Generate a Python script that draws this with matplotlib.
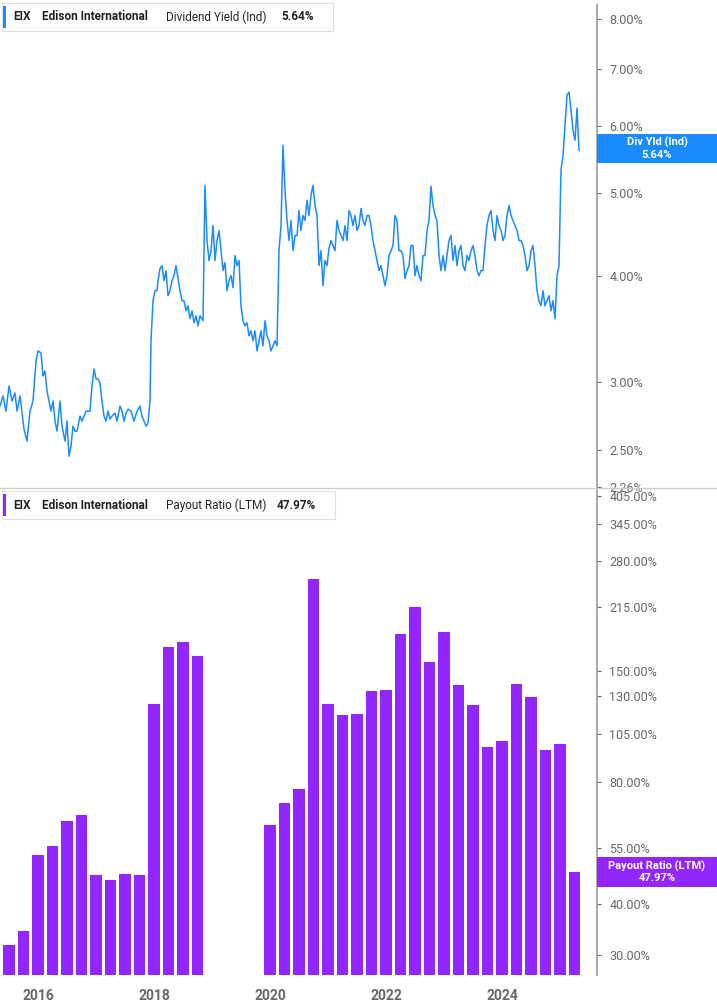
import numpy as np
import matplotlib
matplotlib.use("Agg")
import matplotlib.pyplot as plt
from matplotlib.ticker import FixedLocator, NullLocator

plt.rcParams["font.family"] = "Roboto"

# ---- Data ----
_px = [(0,405),(3,395),(6,410),(9,385),(12,400),(15,392),(17,410),(20,395),(24,428),(27,440),(30,410),(33,400),(36,360),(38,350),(41,352),(43,375),(45,370),(47,390),(49,400),(51,410),(53,400),(55,420),(57,430),(60,400),(62,425),(65,440),(67,420),(69,455),(71,445),(73,425),(75,430),(77,430),(80,415),(82,420),(86,410),(90,410),(92,385),(94,368),(96,378),(98,378),(100,382),(102,400),(104,415),(106,420),(108,410),(110,418),(112,415),(115,412),(117,420),(120,405),(122,410),(124,420),(126,412),(128,408),(131,410),(134,420),(137,410),(140,405),(142,415),(144,420),(146,425),(148,422),(150,400),(151,340),(153,300),(155,290),(157,290),(158,280),(160,268),(162,265),(164,280),(166,270),(168,295),(170,290),(172,280),(174,275),(176,265),(178,278),(180,290),(182,300),(184,300),(186,310),(188,305),(190,318),(192,310),(194,322),(196,315),(198,325),(200,315),(203,320),(205,185),(207,240),(209,260),(211,250),(213,225),(215,260),(217,240),(219,230),(221,250),(223,270),(225,262),(227,290),(229,280),(231,275),(233,287),(235,255),(237,265),(239,260),(241,305),(243,320),(245,325),(247,322),(249,335),(251,330),(253,340),(255,330),(257,350),(259,340),(261,330),(263,345),(265,320),(267,335),(269,340),(271,350),(273,345),(275,340),(277,345),(279,250),(281,225),(283,145),(285,190),(287,220),(289,240),(291,220),(293,250),(295,235),(297,235),(299,210),(301,230),(303,215),(305,220),(307,200),(309,215),(311,195),(313,185),(315,205),(317,215),(319,265),(321,250),(323,285),(325,260),(327,265),(329,248),(331,240),(333,245),(335,250),(337,220),(339,230),(341,235),(343,240),(345,225),(347,240),(349,210),(351,215),(353,225),(355,215),(357,230),(359,225),(361,208),(363,220),(365,225),(367,215),(369,215),(371,225),(373,240),(375,250),(377,260),(379,270),(381,265),(383,275),(385,285),(387,275),(389,255),(391,250),(393,245),(395,215),(397,220),(399,250),(401,250),(403,255),(405,278),(407,270),(409,265),(411,245),(413,245),(415,275),(417,265),(419,275),(421,280),(423,255),(425,255),(427,230),(429,220),(431,186),(433,205),(435,215),(437,220),(439,255),(441,270),(443,255),(445,270),(447,255),(449,240),(451,235),(453,260),(455,245),(457,265),(459,250),(461,245),(463,265),(465,270),(467,255),(469,260),(471,250),(473,245),(475,255),(477,270),(479,275),(481,270),(483,270),(485,245),(487,225),(489,215),(491,210),(493,230),(495,240),(497,215),(499,225),(501,230),(503,240),(505,235),(507,215),(509,205),(511,215),(513,220),(515,225),(517,230),(519,240),(521,240),(523,245),(525,255),(527,270),(529,265),(531,250),(533,245),(535,265),(537,290),(539,300),(541,305),(543,290),(545,305),(547,300),(549,295),(551,310),(553,300),(555,318),(557,275),(559,265),(561,170),(563,155),(565,125),(567,95),(569,92),(571,110),(573,130),(575,140),(577,108),(579,150)]
yield_dates = [round(2016 + (a - 38) / 58.0, 3) for a, b in _px]
yield_values = [round(4.0 * np.exp(-(b - 275) / 369.0), 3) for a, b in _px]

payout_dates = [2015.5, 2015.75, 2016.0, 2016.25, 2016.5, 2016.75, 2017.0, 2017.25, 2017.5, 2017.75,
                2018.0, 2018.25, 2018.5, 2018.75,
                2020.0, 2020.25, 2020.5, 2020.75, 2021.0, 2021.25, 2021.5, 2021.75, 2022.0, 2022.25,
                2022.5, 2022.75, 2023.0, 2023.25, 2023.5, 2023.75, 2024.0, 2024.25, 2024.5, 2024.75,
                2025.0, 2025.25]
payout_values = [31.7, 34.2, 52.8, 55.5, 64.0, 66.3, 47.2, 45.9, 47.4, 47.2,
                 124, 171.6, 177, 163,
                 62.6, 70.8, 76.7, 253, 124, 116.7, 117.5, 133.7, 134.5, 185,
                 215, 157.6, 186.6, 138.5, 123.4, 97.5, 101, 139, 129, 96,
                 99.3, 47.97]

top_ticks = [2.26, 2.5, 3, 4, 5, 6, 7, 8]
bot_ticks = [30, 40, 55, 80, 105, 130, 150, 215, 280, 345, 405]
year_ticks = [2016, 2018, 2020, 2022, 2024]

BLUE = "#1a8cff"
PURPLE = "#9326ff"
GRAY = "#666666"

W, H = 717, 1005
fig = plt.figure(figsize=(W / 100, H / 100), dpi=100)
x0 = 2016 - 38 / 58.0
x1 = 2016 + (597 - 38) / 58.0

def ax_rect(top, bottom):
    return [0, 1 - bottom / H, 597 / W, (bottom - top) / H]

ax1 = fig.add_axes(ax_rect(5, 487))
ax2 = fig.add_axes(ax_rect(490, 975))

for ax in (ax1, ax2):
    ax.set_yscale("log")
    ax.set_xlim(x0, x1)
    ax.yaxis.tick_right()
    for s in ("top", "left", "bottom"):
        ax.spines[s].set_visible(False)
    ax.spines["right"].set_color("#999999")
    ax.spines["right"].set_linewidth(1.2)
    ax.tick_params(axis="y", which="both", length=3, color=GRAY, labelsize=9, labelcolor=GRAY, pad=6)
    ax.yaxis.set_minor_locator(NullLocator())

ax1.plot(yield_dates, yield_values, color=BLUE, lw=1.1)
ax1.set_ylim(2.26, 8.31)
ax1.yaxis.set_major_locator(FixedLocator(top_ticks))
ax1.set_yticklabels([f"{t:.2f}%" for t in top_ticks])
ax1.set_xticks([])

ax2.bar(payout_dates, payout_values, width=0.2, color=PURPLE, align="center", bottom=0.1)
ax2.set_ylim(26.8, 418)
ax2.yaxis.set_major_locator(FixedLocator(bot_ticks))
ax2.set_yticklabels([f"{t:.2f}%" for t in bot_ticks])
ax2.set_xticks(year_ticks)
ax2.set_xticklabels([str(y) for y in year_ticks])
ax2.tick_params(axis="x", length=0, labelsize=10, labelcolor=GRAY, pad=10)
for lab in ax2.get_xticklabels():
    lab.set_fontweight("bold")

fig.add_artist(plt.Line2D([0, 1], [1 - 488 / H] * 2, color="#cccccc", lw=1))

def header(y, color, label, value, xlab, xval, wbox):
    fig.patches.append(matplotlib.patches.Rectangle((2 / W, 1 - (y + 14) / H), wbox / W, 28 / H,
                       transform=fig.transFigure, facecolor="white", edgecolor="#e0e0e0", lw=0.8))
    fig.patches.append(matplotlib.patches.Rectangle((3 / W, 1 - (y + 11) / H), 3 / W, 22 / H,
                       transform=fig.transFigure, facecolor=color, edgecolor="none"))
    yy = 1 - y / H
    fig.text(13 / W, yy, "EIX", fontsize=8.5, fontweight="bold", color="#222222", va="center")
    fig.text(42 / W, yy, "Edison International", fontsize=8.5, fontweight="bold", color="#222222", va="center")
    fig.text(xlab / W, yy, label, fontsize=8.5, color="#222222", va="center")
    fig.text(xval / W, yy, value, fontsize=8.5, fontweight="bold", color="#222222", va="center")

header(17, BLUE, "Dividend Yield (Ind)", "5.64%", 166, 281, 331)
header(505, PURPLE, "Payout Ratio (LTM)", "47.97%", 166, 277, 333)

def tag(top, bottom, color, l1, l2):
    fig.patches.append(matplotlib.patches.Rectangle((597 / W, 1 - bottom / H), 120 / W, (bottom - top) / H,
                       transform=fig.transFigure, facecolor=color, edgecolor="none"))
    mid = (top + bottom) / 2
    fig.text(657 / W, 1 - (mid - 6) / H, l1, fontsize=8, fontweight="bold", color="white", ha="center", va="center")
    fig.text(657 / W, 1 - (mid + 6) / H, l2, fontsize=8, fontweight="bold", color="white", ha="center", va="center")

tag(134, 163, BLUE, "Div Yld (Ind)", "5.64%")
tag(857, 887, PURPLE, "Payout Ratio (LTM)", "47.97%")

fig.savefig("out.png", dpi=100)
